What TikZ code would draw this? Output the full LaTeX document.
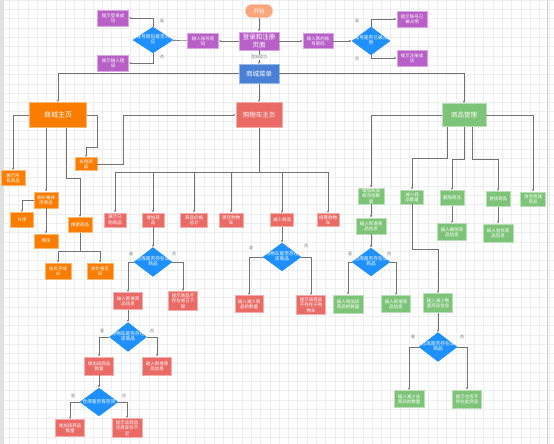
\documentclass[tikz,border=0pt]{standalone}
\usepackage{fontspec}
\newfontfamily\cjk{Noto Sans CJK SC}
\usetikzlibrary{shapes.geometric,arrows.meta}

\definecolor{corange}{RGB}{250,125,0}
\definecolor{cred}{RGB}{234,107,102}
\definecolor{cgreen}{RGB}{126,196,120}
\definecolor{cpurple}{RGB}{184,95,200}
\definecolor{cblue}{RGB}{30,144,255}
\definecolor{cmenu}{RGB}{72,128,214}
\definecolor{cstart}{RGB}{250,165,125}
\definecolor{cline}{RGB}{115,115,115}
\definecolor{cgrid}{RGB}{238,238,238}

\newcommand\dtext[1]{\makebox[0pt]{\begin{tabular}{@{}c@{}}#1\end{tabular}}}

\tikzset{
  box/.style={draw=#1!55!white, fill=#1, text=white, align=center, inner sep=0pt,
    line width=0.6pt, font=\cjk\fontsize{4.5}{5.3}\selectfont},
  sz/.style 2 args={minimum width=#1pt, minimum height=#2pt},
  big/.style={font=\cjk\fontsize{6.5}{7.5}\selectfont},
  dec/.style={diamond, draw=cblue, fill=cblue, text=white, inner sep=0pt,
    font=\cjk\fontsize{4.7}{5.4}\selectfont},
  line/.style={draw=cline, line width=0.55pt},
  arr/.style={line, -{Latex[length=2.4pt,width=2pt]}},
  arrb/.style={arr, line width=1pt},
  lbl/.style={text=cline, inner sep=0.4pt, font=\cjk\fontsize{4}{4.5}\selectfont},
}

\begin{document}
\begin{tikzpicture}[x=1pt,y=-1pt]
  \useasboundingbox (0,0) rectangle (554,444);
  \fill[white] (0,0) rectangle (554,444);
  % grid paper
  \foreach \g in {0,9.3,...,554} \draw[cgrid, line width=0.3pt] (\g,0) -- (\g,444);
  \foreach \g in {0,9.3,...,444} \draw[cgrid, line width=0.3pt] (0,\g) -- (554,\g);
  \fill[black!12] (0,0) rectangle (4,444);
  \draw[black!18, line width=0.8pt] (547,0) -- (547,444);

  % login and register
  \node[box=cstart, sz={27}{13}, rounded corners=6pt, font=\cjk\fontsize{5.5}{6}\selectfont] (start) at (259,11) {开始};
  \node[box=cpurple, sz={40}{18}, big] (login) at (259,41) {登录和注册\\页面};
  \node[box=cpurple, sz={31}{15}] (inpw) at (203,41) {输入账号密\\码};
  \node[dec, sz={40}{26}] (dpw) at (153,40) {\dtext{账号密码是否对\\应}};
  \node[box=cpurple, sz={31}{16}] (okin) at (113,18) {提示登录成\\功};
  \node[box=cpurple, sz={31}{16}] (errin) at (113,63) {提示输入错\\误};
  \node[box=cpurple, sz={30}{15}] (innew) at (318,41) {输入新的账\\号密码};
  \node[dec, sz={38}{28}] (dacc) at (371,41) {\dtext{账号是否已被占\\用}};
  \node[box=cpurple, sz={30}{16}] (used) at (412,19) {提示账号已\\被占用};
  \node[box=cpurple, sz={30}{16}] (regok) at (412,58) {提示注册成\\功};
  \node[box=cmenu, sz={40}{19}, big] (menu) at (259,74) {商城菜单};

  \draw[arr] (start) -- (login);
  \draw[arr] (login) -- (inpw);
  \draw[arr] (inpw) -- (dpw);
  \draw[arr] (dpw.north) |- (okin);
  \draw[arr] (dpw.south) |- (errin);
  \draw[arr] (login) -- (innew);
  \draw[arr] (innew) -- (dacc);
  \draw[arr] (dacc.north) |- (used);
  \draw[arr] (dacc.south) |- (regok);
  \draw[arr] (login) -- node[lbl, fill=white] (okl) {登陆成功} (menu);
  \node[lbl] (dpwy) at ([shift={(9,-19)}]dpw) {是};
  \node[lbl] (dpwn) at ([shift={(9,17)}]dpw) {否};
  \node[lbl] (daccy) at ([shift={(-14,-20)}]dacc) {是};
  \node[lbl] (daccn) at ([shift={(-14,18)}]dacc) {否};

  % three main pages
  \node[box=corange, sz={57}{25}, font=\cjk\fontsize{7}{8}\selectfont] (shop) at (58,115) {商城主页};
  \node[box=cred, sz={46}{25}, big] (cart) at (259,115) {购物车主页};
  \node[box=cgreen, sz={44}{23}, big] (mgmt) at (464,115) {商品管理};
  \draw[arrb] (menu) -| (shop);
  \draw[arrb] (menu) -- (cart);
  \draw[arrb] (menu) -| (mgmt);

  % shop page
  \node[box=corange, sz={24}{15}] (showall) at (13,178) {展示所\\有商品};
  \node[box=corange, sz={22}{13}] (gobuy) at (86,164) {去购商\\品};
  \node[box=corange, sz={24}{16}] (sortp) at (46,200) {按价格排\\序商品};
  \node[box=corange, sz={23}{15}] (asc) at (22,220) {升序};
  \node[box=corange, sz={24}{14}] (desc) at (46,241) {降序};
  \node[box=corange, sz={24}{15}] (search) at (80,225) {搜索商品};
  \node[box=corange, sz={26}{16}] (byname) at (58,271) {按名字或\\id};
  \node[box=corange, sz={26}{16}] (byprice) at (100,271) {按价格区\\间};

  \draw[arr] (shop) -| (showall);
  \draw[arr] (sortp.north |- shop.south) -- (sortp);
  \draw[arr] ([xshift=8pt]shop.south) -- ++(0,50) -| (search);
  \draw[arr] (shop.east) -- ++(10,0) |- ([yshift=10pt]gobuy.north) -- (gobuy);
  \draw[arr] (gobuy.east) -- ++(26,0) |- (cart);
  \draw[arr] (sortp) -| (asc);
  \draw[arr] (sortp) -- (desc);
  \coordinate (sj) at (80,251);
  \draw[line] (search) -- (sj);
  \draw[arr] (sj) -| (byname);
  \draw[arr] (sj) -| (byprice);

  % cart page
  \node[box=cred, sz={22}{14}] (cshow) at (115,220) {展示已\\购商品};
  \node[box=cred, sz={22}{14}] (cadd) at (153,220) {增加商\\品};
  \node[box=cred, sz={27}{14}] (ctotal) at (194,220) {商品价格\\总计};
  \node[box=cred, sz={24}{14}] (cclear) at (231,220) {清空购物\\车};
  \node[box=cred, sz={23}{13}] (cdec) at (282,220) {减少商品};
  \node[box=cred, sz={22}{13}] (cpay) at (328,220) {结算购物\\车};
  \coordinate (cj) at (259,172);
  \draw[line] (cart) -- (cj);
  \foreach \n in {cshow,cadd,ctotal,cclear,cdec,cpay}
    \draw[arr] (cj) -| (\n);

  \node[dec, sz={38}{29}] (d1) at (153,262) {\dtext{仓库是否存在该\\商品}};
  \node[box=cred, sz={29}{17}] (a1) at (128,301) {输入新增商\\品信息};
  \node[box=cred, sz={29}{19}] (a2) at (183,301) {提示商品不\\存在或已下\\架};
  \node[dec, sz={37}{29}] (d2) at (128,337) {\dtext{购物车是否存在\\该商品}};
  \node[box=cred, sz={29}{18}] (a3) at (99,366) {增加该商品\\数量};
  \node[box=cred, sz={29}{18}] (a4) at (157,366) {输入新增商\\品信息};
  \node[dec, sz={38}{28}] (d3) at (99,402) {\dtext{仓库是否有存货}};
  \node[box=cred, sz={29}{17}] (a5) at (70,428) {增加该商品\\数量};
  \node[box=cred, sz={30}{19}] (a6) at (127,428) {提示该商品\\仓库库存不\\足};
  \draw[arr] (cadd) -- (d1);
  \draw[arr] (d1) -| (a1);
  \draw[arr] (d1) -| (a2);
  \draw[arr] (a1) -- (d2);
  \draw[arr] (d2) -| (a3);
  \draw[arr] (d2) -| (a4);
  \draw[arr] (a3) -- (d3);
  \draw[arr] (d3) -| (a5);
  \draw[arr] (d3) -| (a6);
  \node[lbl] (d1y) at ([shift={(-22,-8)}]d1) {是};
  \node[lbl] (d1n) at ([shift={(21,-8)}]d1) {否};
  \node[lbl] (d2y) at ([shift={(-26,-6)}]d2) {是};
  \node[lbl] (d2n) at ([shift={(24,-6)}]d2) {否};
  \node[lbl] (d3y) at ([shift={(-26,-6)}]d3) {是};
  \node[lbl] (d3n) at ([shift={(25,-6)}]d3) {否};

  \node[dec, sz={38}{28}] (d4) at (282,257) {\dtext{购物车是否存在\\该商品}};
  \node[box=cred, sz={28}{17}] (a7) at (249,304) {输入减少商\\品的数量};
  \node[box=cred, sz={29}{19}] (a8) at (311,305) {提示该商品\\不存在于购\\物车};
  \draw[arr] (cdec) -- (d4);
  \draw[arr] (d4) -| (a7);
  \draw[arr] (d4) -| (a8);
  \node[lbl] (d4y) at ([shift={(-31,-9)}]d4) {是};
  \node[lbl] (d4n) at ([shift={(24,-11)}]d4) {否};

  % goods management
  \node[box=cgreen, sz={26}{16}] (gadd) at (371,196) {增加商品\\或添加数\\量};
  \node[box=cgreen, sz={23}{14}] (gdec) at (412,197) {减少商\\品数量};
  \node[box=cgreen, sz={24}{15}] (gdel) at (452,198) {删除商品};
  \node[box=cgreen, sz={24}{15}] (gfind) at (498,199) {查找商品};
  \node[box=cgreen, sz={25}{14}] (gclr) at (533,199) {清空商城\\商品};
  \node[box=cgreen, sz={30}{16}] (gaddin) at (371,226) {输入新增商\\品信息};
  \node[box=cgreen, sz={29}{17}] (gdelin) at (452,232) {输入删除商\\品信息};
  \node[box=cgreen, sz={30}{18}] (gfindin) at (498,233) {输入查找商\\品信息};
  \draw[arr] (mgmt) -| (gadd);
  \draw[arr] ([xshift=-17pt]mgmt.south) -- ++(0,31) -| (gdec);
  \draw[arr] (mgmt.south) -- ++(0,32) -| (gdel);
  \draw[arr] ([xshift=8pt]mgmt.south) -- ++(0,32) -| (gfind);
  \draw[arr] (mgmt) -| (gclr);
  \draw[arr] (gadd) -- (gaddin);
  \draw[arr] (gdel) -- (gdelin);
  \draw[arr] (gfind) -- (gfindin);

  \node[dec, sz={38}{28}] (gd1) at (371,262) {\dtext{仓库是否存在该\\商品}};
  \node[box=cgreen, sz={30}{18}] (g1) at (348,304) {输入增加该\\商品的数量};
  \node[box=cgreen, sz={29}{17}] (g2) at (396,304) {输入新增商\\品信息};
  \draw[arr] (gaddin) -- (gd1);
  \draw[arr] (gd1) -| (g1);
  \draw[arr] (gd1) -| (g2);
  \node[lbl] (gd1y) at ([shift={(-21,-8)}]gd1) {是};
  \node[lbl] (gd1n) at ([shift={(18,-8)}]gd1) {否};

  \node[box=cgreen, sz={29}{19}] (gdecin) at (438,303) {输入减少数\\量商品信息};
  \node[dec, sz={38}{29}] (gd2) at (438,347) {\dtext{仓库是否存在该\\商品}};
  \node[box=cgreen, sz={30}{17}] (g3) at (409,399) {输入减少该\\商品的数量};
  \node[box=cgreen, sz={29}{18}] (g4) at (467,399) {提示仓库不\\存在此商品};
  \draw[arr] (gdec.south) -- ++(0,45) -| (gdecin);
  \draw[arr] (gdecin) -- (gd2);
  \draw[arr] (gd2) -| (g3);
  \draw[arr] (gd2) -| (g4);
  \node[lbl] (gd2y) at ([shift={(-25,-10)}]gd2) {是};
  \node[lbl] (gd2n) at ([shift={(24,-10)}]gd2) {否};
\end{tikzpicture}
\end{document}
